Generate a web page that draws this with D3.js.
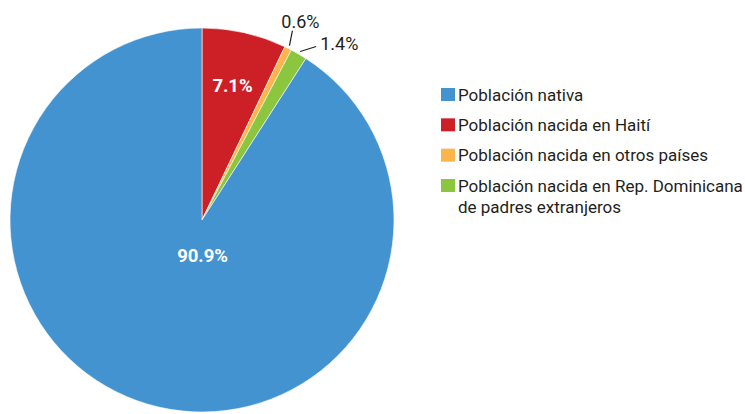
<!DOCTYPE html>
<html>
<head>
<meta charset="utf-8">
<script src="https://cdn.jsdelivr.net/npm/d3@7"></script>
<style>
  body { margin: 0; background: #fff; }
  text { font-family: Roboto, "Noto Sans", sans-serif; }
</style>
</head>
<body>
<svg width="745" height="414"></svg>
<script>
// The svg
var svg = d3.select("svg"),
    width = +svg.attr("width"),
    height = +svg.attr("height");

// Data
var categories = ["Población nacida en Haití", "Población nacida en otros países",
                  "Población nacida en Rep. Dominicana de padres extranjeros", "Población nativa"];
var values = [7.1, 0.6, 1.4, 90.9];
var valueLabels = ["7.1%", "0.6%", "1.4%", "90.9%"];
var colors = ["#cd1f26", "#fbb54a", "#8cc63e", "#4393d0"];

// Legend order and wrapped lines
var legendOrder = [3, 0, 1, 2];
var legendLines = [["Población nativa"], ["Población nacida en Haití"],
                   ["Población nacida en otros países"],
                   ["Población nacida en Rep. Dominicana", "de padres extranjeros"]];

var radius = 192;
var cx = 202, cy = 220;

var pie = d3.pie().sort(null).value(function (d) { return d; });
var arcs = pie(values);

var arc = d3.arc().innerRadius(0).outerRadius(radius);

var g = svg.append("g").attr("transform", "translate(" + cx + "," + cy + ")");

g.selectAll("path.slice")
    .data(arcs)
    .enter().append("path")
    .attr("class", "slice")
    .attr("d", arc)
    .attr("fill", function (d, i) { return colors[i]; })
    .attr("stroke", "#fff")
    .attr("stroke-width", 0.6);

// Inside labels (the big ones)
var innerArc = d3.arc().innerRadius(138).outerRadius(138);
var centerArc = d3.arc().innerRadius(37).outerRadius(37);

g.append("text")
    .attr("transform", "translate(" + innerArc.centroid(arcs[0]) + ")")
    .attr("dy", "0.35em")
    .attr("text-anchor", "middle")
    .style("font-size", "18.5px")
    .style("font-weight", "bold")
    .style("fill", "#fff")
    .text(valueLabels[0]);

var c3 = centerArc.centroid(arcs[3]);
g.append("text")
    .attr("x", c3[0] + 11)
    .attr("y", c3[1])
    .attr("dy", "0.35em")
    .attr("text-anchor", "middle")
    .style("font-size", "18.5px")
    .style("font-weight", "bold")
    .style("fill", "#fff")
    .text(valueLabels[3]);

// Outside labels with leader lines
var edgeArc = d3.arc().innerRadius(radius + 3).outerRadius(radius + 3);

var p1 = edgeArc.centroid(arcs[1]);
g.append("line")
    .attr("x1", p1[0]).attr("y1", p1[1])
    .attr("x2", p1[0] + 3).attr("y2", p1[1] - 15)
    .attr("stroke", "#231f20").attr("stroke-width", 1.2);
g.append("text")
    .attr("x", p1[0] + 11).attr("y", p1[1] - 18)
    .attr("text-anchor", "middle")
    .style("font-size", "18px")
    .style("fill", "#231f20")
    .text(valueLabels[1]);

var p2 = edgeArc.centroid(arcs[2]);
g.append("line")
    .attr("x1", p2[0]).attr("y1", p2[1])
    .attr("x2", p2[0] + 16).attr("y2", p2[1] - 5)
    .attr("stroke", "#231f20").attr("stroke-width", 1.2);
g.append("text")
    .attr("x", p2[0] + 20).attr("y", p2[1] - 2)
    .style("font-size", "18px")
    .style("fill", "#231f20")
    .text(valueLabels[2]);

// Legend
var legend = svg.append("g").attr("transform", "translate(441,88)");
var rowY = d3.scalePoint().domain(d3.range(legendOrder.length)).range([0, 91]);

legendOrder.forEach(function (k, j) {
    var row = legend.append("g").attr("transform", "translate(0," + rowY(j) + ")");
    row.append("rect")
        .attr("width", 14).attr("height", 13)
        .attr("fill", colors[k]);
    row.selectAll("text")
        .data(legendLines[j])
        .enter().append("text")
        .attr("x", 17)
        .attr("y", function (d, i) { return 12.5 + i * 21; })
        .style("font-size", "17px")
        .style("fill", "#231f20")
        .text(function (d) { return d; });
});
</script>
</body>
</html>
